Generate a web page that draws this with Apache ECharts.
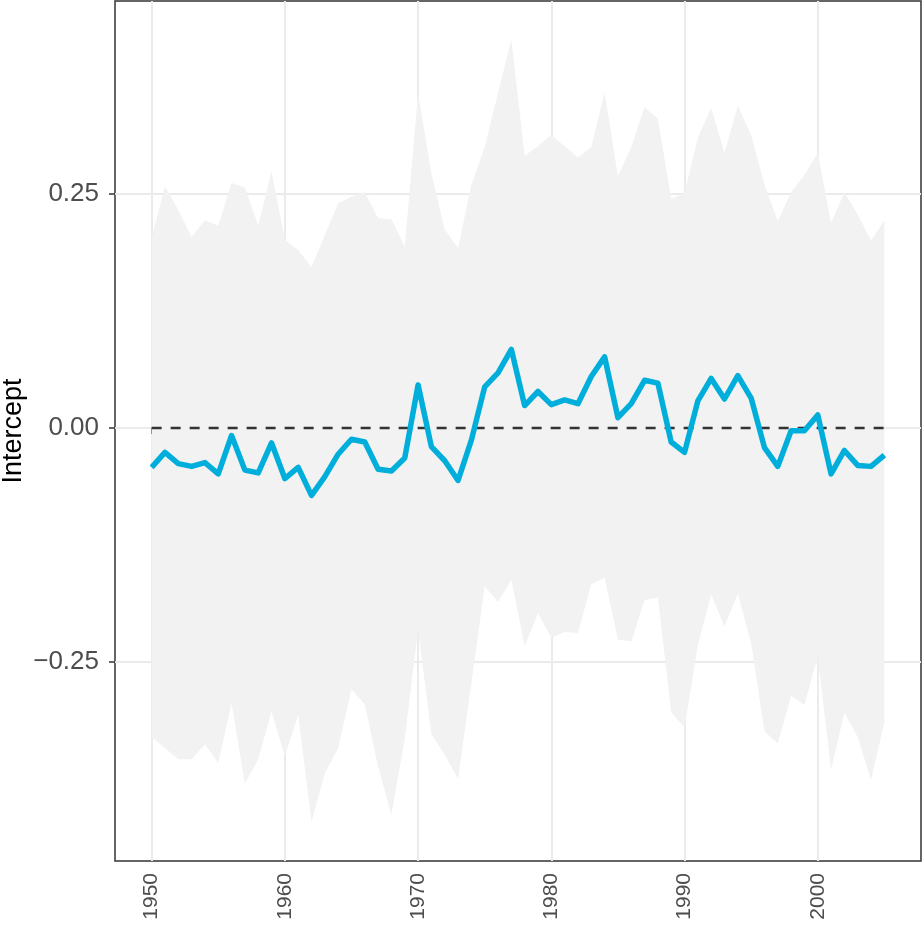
<!DOCTYPE html>
<html>
<head>
<meta charset="utf-8">
<script src="https://cdn.jsdelivr.net/npm/echarts@6/dist/echarts.min.js"></script>
<style>
  html, body { margin: 0; padding: 0; background: #fff; }
  #chart { width: 924px; height: 926px; }
</style>
</head>
<body>
<div id="chart"></div>
<script>
// years on the x axis
const years = [
  1950, 1951, 1952, 1953, 1954, 1955, 1956, 1957, 1958, 1959,
  1960, 1961, 1962, 1963, 1964, 1965, 1966, 1967, 1968, 1969,
  1970, 1971, 1972, 1973, 1974, 1975, 1976, 1977, 1978, 1979,
  1980, 1981, 1982, 1983, 1984, 1985, 1986, 1987, 1988, 1989,
  1990, 1991, 1992, 1993, 1994, 1995, 1996, 1997, 1998, 1999,
  2000, 2001, 2002, 2003, 2004, 2005
];
// intercept estimate (blue line)
const estimate = [
  -0.042, -0.026, -0.038, -0.041, -0.037, -0.049, -0.008, -0.045, -0.048, -0.016,
  -0.054, -0.042, -0.072, -0.052, -0.028, -0.012, -0.015, -0.044, -0.046, -0.032,
  0.046, -0.020, -0.035, -0.056, -0.013, 0.044, 0.059, 0.084, 0.024, 0.039,
  0.025, 0.030, 0.026, 0.055, 0.076, 0.011, 0.026, 0.051, 0.048, -0.015,
  -0.026, 0.029, 0.053, 0.031, 0.056, 0.032, -0.021, -0.041, -0.003, -0.003,
  0.014, -0.049, -0.024, -0.040, -0.041, -0.029
];
// band limits (grey ribbon)
const upper = [
  0.203, 0.258, 0.233, 0.204, 0.222, 0.216, 0.262, 0.257, 0.216, 0.274,
  0.201, 0.190, 0.172, 0.206, 0.240, 0.247, 0.252, 0.224, 0.223, 0.194,
  0.358, 0.272, 0.212, 0.192, 0.260, 0.300, 0.358, 0.415, 0.291, 0.301,
  0.313, 0.301, 0.289, 0.300, 0.359, 0.269, 0.300, 0.343, 0.330, 0.245,
  0.251, 0.310, 0.342, 0.294, 0.344, 0.313, 0.260, 0.221, 0.252, 0.270,
  0.294, 0.219, 0.252, 0.228, 0.200, 0.222
];
const lower = [
  -0.330, -0.342, -0.354, -0.354, -0.338, -0.358, -0.294, -0.380, -0.354, -0.303,
  -0.351, -0.306, -0.421, -0.369, -0.342, -0.279, -0.295, -0.362, -0.413, -0.332,
  -0.215, -0.327, -0.349, -0.375, -0.273, -0.169, -0.186, -0.162, -0.233, -0.198,
  -0.224, -0.218, -0.219, -0.167, -0.160, -0.226, -0.228, -0.184, -0.181, -0.304,
  -0.320, -0.232, -0.178, -0.212, -0.177, -0.230, -0.324, -0.337, -0.286, -0.296,
  -0.244, -0.365, -0.304, -0.330, -0.376, -0.314
];
// tick positions
const xTicks = [1950, 1960, 1970, 1980, 1990, 2000];
const yTicks = [-0.25, 0, 0.25];

const font = 'Liberation Sans, Arial, Helvetica, sans-serif';

let myChart = echarts.init(document.getElementById('chart'));

let bandData = years.map((y, i) => [y, lower[i], upper[i]]);
let estData = years.map((y, i) => [y, estimate[i]]);
let zeroData = [[years[0], 0], [years[years.length - 1], 0]];

let option = {
    animation: false,
    backgroundColor: '#ffffff',
    grid: {
        left: 115,
        right: 3,
        top: 1,
        bottom: 65,
        outerBoundsMode: 'none',
        containLabel: false,
        show: true,
        borderColor: '#333333',
        borderWidth: 1.5,
        backgroundColor: 'transparent'
    },
    xAxis: {
        type: 'value',
        min: 1947.25,
        max: 2007.75,
        axisLine: { show: false },
        axisTick: {
            show: true,
            customValues: xTicks,
            length: 6,
            lineStyle: { color: '#333333', width: 1.5 }
        },
        axisLabel: {
            customValues: xTicks,
            rotate: 90,
            margin: 12,
            color: '#4D4D4D',
            fontSize: 21,
            fontFamily: font,
            formatter: function (v) { return String(v); }
        },
        splitLine: {
            show: true,
            lineStyle: { color: '#EBEBEB', width: 2 }
        }
    },
    yAxis: {
        type: 'value',
        min: -0.4626,
        max: 0.4562,
        name: 'Intercept',
        nameLocation: 'middle',
        nameRotate: 90,
        nameGap: 88,
        nameMoveOverlap: false,
        nameTextStyle: {
            color: '#000000',
            fontSize: 27,
            fontFamily: font
        },
        axisLine: { show: false },
        axisTick: {
            show: true,
            customValues: yTicks,
            length: 6,
            lineStyle: { color: '#333333', width: 1.5 }
        },
        axisLabel: {
            customValues: yTicks,
            margin: 16,
            color: '#4D4D4D',
            fontSize: 26,
            fontFamily: font,
            formatter: function (v) {
                let s = Math.abs(v).toFixed(2);
                return v < 0 ? '\u2212' + s : s;
            }
        },
        splitLine: {
            show: true,
            lineStyle: { color: '#EBEBEB', width: 2 }
        }
    },
    series: [
        {
            name: 'band',
            type: 'custom',
            data: bandData,
            encode: { x: 0, y: [1, 2] },
            z: 1,
            renderItem: function (params, api) {
                if (params.dataIndex !== 0) return;
                let pts = [];
                for (let i = 0; i < years.length; i++) {
                    pts.push(api.coord([years[i], upper[i]]));
                }
                for (let i = years.length - 1; i >= 0; i--) {
                    pts.push(api.coord([years[i], lower[i]]));
                }
                return {
                    type: 'polygon',
                    shape: { points: pts },
                    style: { fill: '#F2F2F2', stroke: null }
                };
            }
        },
        {
            name: 'zero',
            type: 'line',
            data: zeroData,
            symbol: 'none',
            lineStyle: { color: '#333333', width: 2.5, type: [10, 9] },
            z: 2
        },
        {
            name: 'Intercept',
            type: 'line',
            data: estData,
            symbol: 'none',
            lineStyle: { color: '#00AEDB', width: 5.5, join: 'round' },
            z: 3
        }
    ]
};
myChart.setOption(option);
</script>
</body>
</html>
